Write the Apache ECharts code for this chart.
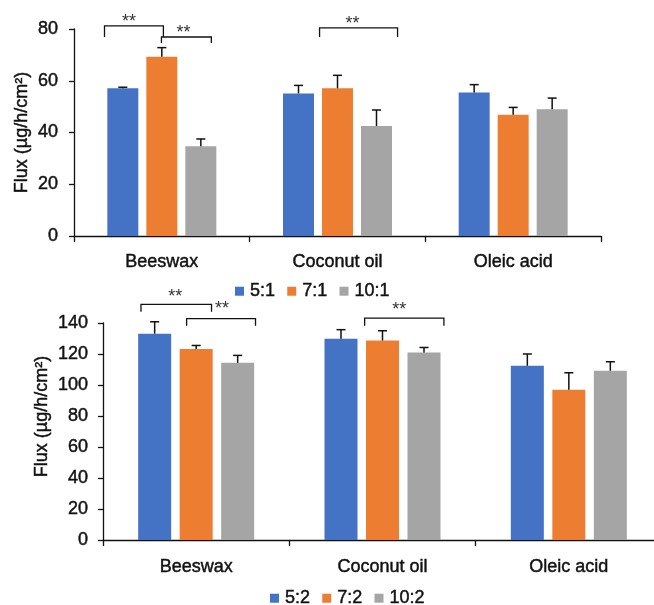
<!DOCTYPE html>
<html>
<head>
<meta charset="utf-8">
<script src="https://cdn.jsdelivr.net/npm/echarts@6/dist/echarts.min.js"></script>
<style>
  html, body { margin: 0; padding: 0; background: #fff; }
  #chart { width: 654px; height: 605px; }
</style>
</head>
<body>
<div id="chart"></div>
<script>
// Formulation categories shared by both panels
const categories = ['Beeswax', 'Coconut oil', 'Oleic acid'];

// Upper panel: ratios x:1
const ratiosTop = ['5:1', '7:1', '10:1'];
const fluxTop51 = [57.1, 55.1, 55.5];
const errTop51 = [0.4, 3.1, 3.0];
const fluxTop71 = [69.3, 57.1, 46.9];
const errTop71 = [3.5, 5.0, 2.8];
const fluxTop101 = [34.7, 42.5, 49.0];
const errTop101 = [2.8, 6.2, 4.3];
const yTicksTop = [0, 20, 40, 60, 80];

// Lower panel: ratios x:2
const ratiosBottom = ['5:2', '7:2', '10:2'];
const fluxBot52 = [133.1, 129.8, 112.4];
const errBot52 = [7.7, 5.9, 7.6];
const fluxBot72 = [123.2, 128.7, 96.9];
const errBot72 = [2.3, 6.3, 11.0];
const fluxBot102 = [114.3, 121.0, 109.2];
const errBot102 = [4.8, 3.2, 5.8];
const yTicksBottom = [0, 20, 40, 60, 80, 100, 120, 140];

// Significance markers: [category index, first ratio, second ratio, label]
const sigTop = [[0, '5:1', '7:1', '**'], [0, '7:1', '10:1', '**'], [1, '7:1', '10:1', '**']];
const sigBottom = [[0, '5:2', '7:2', '**'], [0, '7:2', '10:2', '**'], [1, '7:2', '10:2', '**']];

// Bracket placement (bracket level / leg end in axis units, horizontal span in bar slots,
// label offset in px from the bracket centre)
const bracketLayoutTop = [
  { y: 81.2, leg: 76.9, l: -1.47, r: 0.04, dx: -5, dy: 7 },
  { y: 76.9, leg: 74.6, l: -0.01, r: 1.27, dx: -3, dy: 7 },
  { y: 80.4, leg: 76.9, l: -0.46, r: 1.54, dx: -6, dy: 7 }
];
const bracketLayoutBottom = [
  { y: 152.0, leg: 147.3, l: -1.33, r: 0.37, dx: -1, dy: 10.5 },
  { y: 142.8, leg: 138.2, l: -0.23, r: 1.43, dx: 1, dy: 12.5 },
  { y: 143.2, leg: 138.2, l: -0.43, r: 1.48, dx: -5, dy: 11 }
];

const COLORS = ['#4472C4', '#ED7D31', '#A5A5A5'];
const FONT = "'Liberation Sans', Arial, sans-serif";
const INK = '#111';
const FS = 18;
// slight outline so the thin face reads as heavy as the printed labels
const heavy = { textBorderColor: INK, textBorderWidth: 0.45 };

const BAR_TOP = 31, GAP_TOP = 8;
const BAR_BOT = 33, GAP_BOT = 8.5;

function errorBarRender(slot, spacing) {
  return function (params, api) {
    const base = api.coord([api.value(0), api.value(1)]);
    const tip = api.coord([api.value(0), api.value(1) + api.value(2)]);
    const x = base[0] + slot * spacing;
    const cap = 4.5;
    return {
      type: 'group',
      children: [
        { type: 'line', shape: { x1: x, y1: base[1], x2: x, y2: tip[1] },
          style: { stroke: INK, lineWidth: 1.5 } },
        { type: 'line', shape: { x1: x - cap, y1: tip[1], x2: x + cap, y2: tip[1] },
          style: { stroke: INK, lineWidth: 1.5 } }
      ]
    };
  };
}

function bracketRender(sig, layout, spacing) {
  return function (params, api) {
    const b = layout[params.dataIndex];
    const top = api.coord([api.value(0), b.y]);
    const legY = api.coord([api.value(0), b.leg])[1];
    const xl = top[0] + b.l * spacing;
    const xr = top[0] + b.r * spacing;
    return {
      type: 'group',
      children: [
        { type: 'polyline',
          shape: { points: [[xl, legY], [xl, top[1]], [xr, top[1]], [xr, legY]] },
          style: { stroke: INK, lineWidth: 1.3, fill: null } },
        // asterisks sit high in the em box, so the box bottom goes below the glyphs
        { type: 'text', x: (xl + xr) / 2 + b.dx, y: top[1] - b.dy + 12,
          style: { text: sig[params.dataIndex][3], fill: '#333', font: '18px ' + FONT,
                   align: 'center', verticalAlign: 'bottom' } }
      ]
    };
  };
}

function barSeries(name, values, axis, width, gap) {
  return {
    name: name, type: 'bar', xAxisIndex: axis, yAxisIndex: axis,
    data: values, barWidth: width, barGap: (gap / width * 100) + '%',
    itemStyle: { color: COLORS[(axis === 0 ? ratiosTop : ratiosBottom).indexOf(name)] },
    emphasis: { disabled: true }, silent: true
  };
}

function errSeries(values, errs, slot, spacing, axis) {
  return {
    type: 'custom', xAxisIndex: axis, yAxisIndex: axis, silent: true, clip: false,
    data: values.map((v, i) => [i, v, errs[i]]),
    renderItem: errorBarRender(slot, spacing), z: 5
  };
}

function bracketSeries(sig, layout, spacing, axis) {
  return {
    type: 'custom', xAxisIndex: axis, yAxisIndex: axis, silent: true, clip: false,
    data: sig.map(s => [s[0], 0]),
    renderItem: bracketRender(sig, layout, spacing), z: 6
  };
}

const axisLineStyle = { show: true, lineStyle: { color: INK, width: 1.3 } };

function xAxis(grid, margin) {
  return {
    type: 'category', gridIndex: grid, data: categories,
    axisLine: axisLineStyle,
    axisTick: { show: true, length: 6, lineStyle: { color: INK, width: 1.3 } },
    axisLabel: Object.assign({ color: INK, fontFamily: FONT, fontSize: FS, margin: margin }, heavy),
    splitLine: { show: false }
  };
}

function yAxis(grid, ticks, nameGap, namePad, margin) {
  return {
    type: 'value', gridIndex: grid,
    min: ticks[0], max: ticks[ticks.length - 1], interval: ticks[1] - ticks[0],
    name: 'Flux (µg/h/cm²)', nameLocation: 'middle', nameGap: nameGap,
    nameMoveOverlap: false,
    nameTextStyle: Object.assign({ color: INK, fontFamily: FONT, fontSize: FS, padding: namePad }, heavy),
    axisLine: axisLineStyle,
    axisTick: { show: true, inside: false, length: 5, lineStyle: { color: INK, width: 1.3 } },
    axisLabel: Object.assign({ color: INK, fontFamily: FONT, fontSize: FS, margin: margin }, heavy),
    splitLine: { show: false }
  };
}

function legend(names, left, top) {
  return {
    data: names, left: left, top: top, padding: 0,
    itemWidth: 9, itemHeight: 9, itemGap: 12,
    icon: 'rect', selectedMode: false,
    textStyle: Object.assign({ color: INK, fontFamily: FONT, fontSize: FS, padding: [0, 0, 0, 1] }, heavy)
  };
}

const chart = echarts.init(document.getElementById('chart'), null, { renderer: 'canvas' });
chart.setOption({
  animation: false,
  backgroundColor: '#fff',
  grid: [
    { left: 74, top: 29, width: 527, height: 207, outerBoundsMode: 'none' },
    { left: 103, top: 323, width: 559, height: 217, outerBoundsMode: 'none' }
  ],
  legend: [
    legend(ratiosTop, 235, 282),
    legend(ratiosBottom, 270, 589)
  ],
  xAxis: [xAxis(0, 17), xAxis(1, 18)],
  yAxis: [
    yAxis(0, yTicksTop, 43, [0, 0, 0, 0], 16),
    yAxis(1, yTicksBottom, 52, [0, 0, 0, 30], 15)
  ],
  series: [
    barSeries('5:1', fluxTop51, 0, BAR_TOP, GAP_TOP),
    barSeries('7:1', fluxTop71, 0, BAR_TOP, GAP_TOP),
    barSeries('10:1', fluxTop101, 0, BAR_TOP, GAP_TOP),
    errSeries(fluxTop51, errTop51, -1, BAR_TOP + GAP_TOP, 0),
    errSeries(fluxTop71, errTop71, 0, BAR_TOP + GAP_TOP, 0),
    errSeries(fluxTop101, errTop101, 1, BAR_TOP + GAP_TOP, 0),
    bracketSeries(sigTop, bracketLayoutTop, BAR_TOP + GAP_TOP, 0),

    barSeries('5:2', fluxBot52, 1, BAR_BOT, GAP_BOT),
    barSeries('7:2', fluxBot72, 1, BAR_BOT, GAP_BOT),
    barSeries('10:2', fluxBot102, 1, BAR_BOT, GAP_BOT),
    errSeries(fluxBot52, errBot52, -1, BAR_BOT + GAP_BOT, 1),
    errSeries(fluxBot72, errBot72, 0, BAR_BOT + GAP_BOT, 1),
    errSeries(fluxBot102, errBot102, 1, BAR_BOT + GAP_BOT, 1),
    bracketSeries(sigBottom, bracketLayoutBottom, BAR_BOT + GAP_BOT, 1)
  ]
});
</script>
</body>
</html>
